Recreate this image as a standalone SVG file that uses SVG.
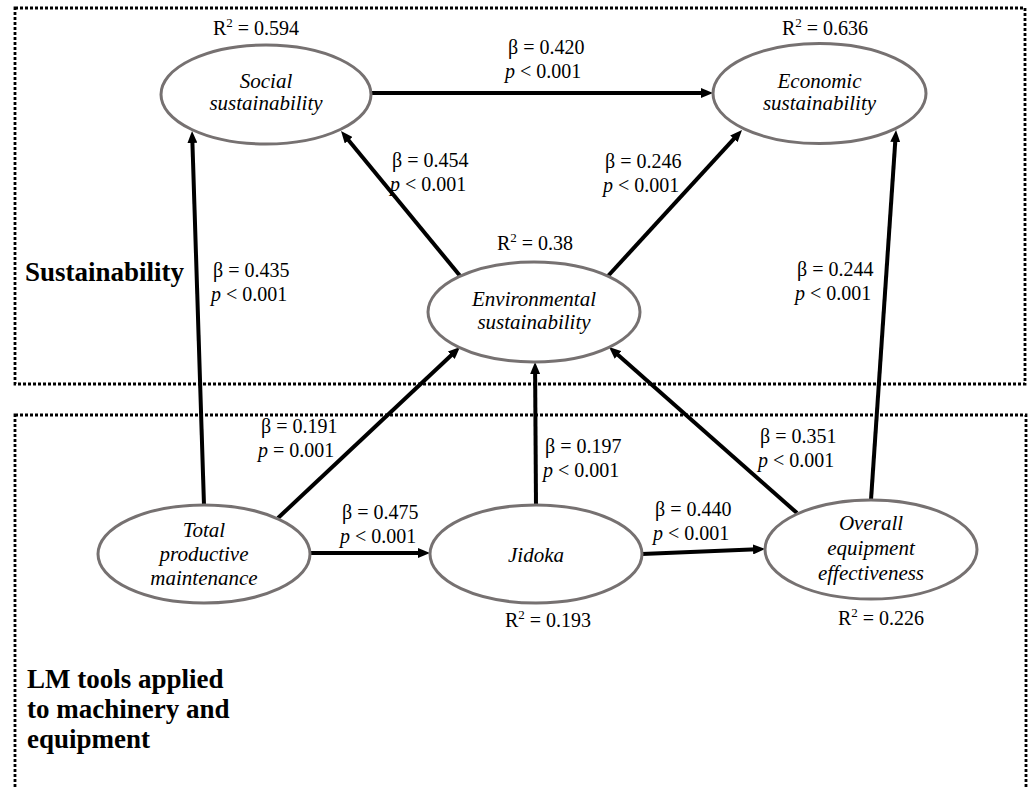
<svg xmlns="http://www.w3.org/2000/svg" width="1031" height="789" viewBox="0 0 1031 789">
<defs>
<style>
.frame{fill:none;stroke:#000;stroke-width:2.8;stroke-dasharray:3 2}
.node ellipse{fill:#fff;stroke:#767171;stroke-width:3}
.node text{font-family:'Liberation Serif','Times New Roman',Times,'DejaVu Serif',serif;font-style:italic;font-size:21px;fill:#000;text-anchor:middle}
.conn line{stroke:#000;stroke-width:4;marker-end:url(#ah)}
.lbl{font-family:'Liberation Serif','Times New Roman',Times,'DejaVu Serif',serif;font-size:20px;fill:#000}
.it{font-style:italic}
.grp{font-family:'Liberation Serif','Times New Roman',Times,'DejaVu Serif',serif;font-weight:bold;font-size:27px;fill:#000}
</style>
<marker id="ah" viewBox="0 0 12 10" refX="4" refY="5" markerWidth="12" markerHeight="10" markerUnits="userSpaceOnUse" orient="auto">
<path d="M0,0 L12,5 L0,10 z" fill="#000"/>
</marker>
</defs>
<rect width="1031" height="789" fill="#fff"/>
<g id="frames">
<rect class="frame" x="15" y="8" width="1010" height="376"/>
<rect class="frame" x="15" y="415" width="1011" height="400"/>
</g>
<text class="grp" x="25" y="281">Sustainability</text>
<text class="grp"><tspan x="27" y="688">LM tools applied</tspan><tspan x="27" y="718">to machinery and</tspan><tspan x="27" y="748">equipment</tspan></text>
<g id="connectors" class="conn">
<line x1="371" y1="93" x2="705" y2="93"/>
<line x1="204" y1="505" x2="192.3" y2="139"/>
<line x1="461" y1="277" x2="346.1" y2="137.2"/>
<line x1="608" y1="276" x2="736.6" y2="135.9"/>
<line x1="871" y1="500" x2="895.5" y2="138"/>
<line x1="278" y1="518" x2="454.2" y2="352.5"/>
<line x1="536" y1="505" x2="535.1" y2="370"/>
<line x1="797" y1="513" x2="615" y2="352.3"/>
<line x1="310" y1="553" x2="422" y2="553"/>
<line x1="642" y1="554" x2="757" y2="549.3"/>
</g>
<g id="social" class="node">
<ellipse cx="266" cy="94.5" rx="105" ry="49.5"/>
<text x="266" y="88">Social</text>
<text x="266" y="110">sustainability</text>
</g>
<g id="economic" class="node">
<ellipse cx="819.5" cy="93.5" rx="106.5" ry="50"/>
<text x="819.5" y="88">Economic</text>
<text x="819.5" y="110">sustainability</text>
</g>
<g id="environmental" class="node">
<ellipse cx="534" cy="312" rx="106" ry="50"/>
<text x="534" y="306">Environmental</text>
<text x="534" y="329">sustainability</text>
</g>
<g id="tpm" class="node">
<ellipse cx="204" cy="554" rx="106" ry="49"/>
<text x="204" y="537">Total</text>
<text x="204" y="561">productive</text>
<text x="204" y="585">maintenance</text>
</g>
<g id="jidoka" class="node">
<ellipse cx="536" cy="554" rx="106" ry="49"/>
<text x="536" y="562">Jidoka</text>
</g>
<g id="oee" class="node">
<ellipse cx="871" cy="549.5" rx="106" ry="49.5"/>
<text x="871" y="530">Overall</text>
<text x="871" y="555">equipment</text>
<text x="871" y="580">effectiveness</text>
</g>
<g id="labels" class="lbl">
<text x="213" y="35">R<tspan font-size="13" dy="-8">2</tspan><tspan dy="8"> = 0.594</tspan></text>
<text x="782" y="35">R<tspan font-size="13" dy="-8">2</tspan><tspan dy="8"> = 0.636</tspan></text>
<text x="497" y="250">R<tspan font-size="13" dy="-8">2</tspan><tspan dy="8"> = 0.38</tspan></text>
<text x="505" y="627">R<tspan font-size="13" dy="-8">2</tspan><tspan dy="8"> = 0.193</tspan></text>
<text x="838" y="625">R<tspan font-size="13" dy="-8">2</tspan><tspan dy="8"> = 0.226</tspan></text>
<text x="508" y="54">β = 0.420</text>
<text x="505" y="78"><tspan class="it">p</tspan> &lt; 0.001</text>
<text x="392" y="167">β = 0.454</text>
<text x="390" y="191"><tspan class="it">p</tspan> &lt; 0.001</text>
<text x="605" y="168">β = 0.246</text>
<text x="603" y="192"><tspan class="it">p</tspan> &lt; 0.001</text>
<text x="213" y="277">β = 0.435</text>
<text x="211" y="301"><tspan class="it">p</tspan> &lt; 0.001</text>
<text x="797" y="276">β = 0.244</text>
<text x="795" y="300"><tspan class="it">p</tspan> &lt; 0.001</text>
<text x="261" y="433">β = 0.191</text>
<text x="258" y="457"><tspan class="it">p</tspan> = 0.001</text>
<text x="342" y="519">β = 0.475</text>
<text x="340" y="543"><tspan class="it">p</tspan> &lt; 0.001</text>
<text x="545" y="453">β = 0.197</text>
<text x="543" y="477"><tspan class="it">p</tspan> &lt; 0.001</text>
<text x="760" y="443">β = 0.351</text>
<text x="758" y="467"><tspan class="it">p</tspan> &lt; 0.001</text>
<text x="655" y="516">β = 0.440</text>
<text x="653" y="540"><tspan class="it">p</tspan> &lt; 0.001</text>
</g>
</svg>
